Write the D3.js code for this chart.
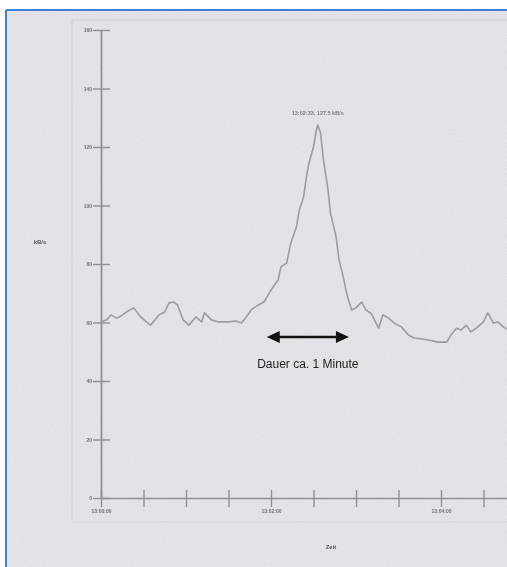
<!doctype html>
<html lang="de">
<head>
<meta charset="utf-8">
<script src="https://cdn.jsdelivr.net/npm/d3@7"></script>
<style>
body { margin: 0; background: #fff; overflow: hidden; }
svg { display: block; font-family: "Liberation Sans", Arial, sans-serif; }
</style>
</head>
<body>
<div id="chart"></div>
<script>
// ---------------- data ----------------
// seconds since 13:00:00
var secs = [0, 4, 7, 11, 14, 18, 23, 28, 32, 35, 41, 45, 48, 51, 54, 58, 62, 67, 71, 73,
  78, 83, 90, 95, 99, 102, 106, 111, 115, 120, 125, 127, 131, 134, 138, 140, 143, 145,
  147, 150, 152, 153, 155, 157, 160, 162, 166, 168, 171, 174, 177, 180, 184, 187, 191,
  193, 196, 199, 203, 207, 212, 217, 221, 226, 231, 238, 244, 247, 251, 254, 258, 261,
  265, 270, 273, 277, 280, 284, 288]
// kB/s
var rate = [60.2, 60.9, 62.6, 61.5, 62.2, 63.6, 65.0, 61.9, 60.2, 59.1, 62.6, 63.6, 66.7,
  67.0, 66.0, 60.9, 59.1, 61.9, 60.2, 63.3, 60.9, 60.2, 60.2, 60.5, 59.8, 61.5, 64.3,
  66.0, 67.0, 71.1, 74.5, 79.0, 80.3, 87.2, 92.7, 98.5, 102.9, 109.8, 114.9, 120.0,
  125.8, 127.5, 124.8, 115.6, 106.3, 97.4, 89.2, 81.4, 75.6, 68.7, 64.3, 65.0, 67.0,
  64.3, 62.9, 60.9, 58.1, 62.6, 61.5, 59.8, 58.5, 55.7, 54.7, 54.4, 54.0, 53.3, 53.3,
  55.7, 58.1, 57.4, 59.1, 56.8, 58.1, 60.2, 63.3, 59.8, 60.2, 58.5, 57.4]
var yTicks = [0, 20, 40, 60, 80, 100, 120, 140, 160]
var xTicks = [0, 30, 60, 90, 120, 150, 180, 210, 240, 270, 300]
var xLabels = {0: '13:00:00', 120: '13:02:00', 240: '13:04:00'}
var peakLabel = '13:02:33, 127.5 kB/s'
var note = 'Dauer ca. 1 Minute'
var arrowFrom = 117, arrowTo = 175   // seconds

// ---------------- layout ----------------
var W = 507, H = 567
var svg = d3.select('#chart').append('svg').attr('width', W).attr('height', H)
var defs = svg.append('defs')

var blur = defs.append('filter').attr('id', 'soft')
blur.append('feGaussianBlur').attr('stdDeviation', 0.6)

var grain = defs.append('filter').attr('id', 'grain').attr('x', 0).attr('y', 0).attr('width', 1).attr('height', 1)
grain.append('feTurbulence').attr('type', 'fractalNoise').attr('baseFrequency', 0.9).attr('numOctaves', 2).attr('seed', 3)
grain.append('feColorMatrix').attr('type', 'matrix')
	.attr('values', '0 0 0 0 0.55  0 0 0 0 0.55  0 0 0 0 0.6  0 0 0 -1.1 0.75')

// scanned page frame
svg.append('rect').attr('x', 6).attr('y', 10).attr('width', W).attr('height', H)
	.attr('fill', '#e5e4e9')
svg.append('rect').attr('x', 6).attr('y', 10).attr('width', W).attr('height', H)
	.attr('filter', 'url(#grain)').attr('opacity', 0.35)
svg.append('line').attr('x1', 6).attr('x2', 6).attr('y1', 10).attr('y2', H)
	.attr('stroke', '#3d82d6').attr('stroke-width', 2)
svg.append('line').attr('x1', 6).attr('x2', W).attr('y1', 10).attr('y2', 10)
	.attr('stroke', '#3d82d6').attr('stroke-width', 2)
// faint plot frame from the print
svg.append('path').attr('d', 'M72,520 V20 H507').attr('fill', 'none')
	.attr('stroke', '#d6d5db').attr('stroke-width', 1.5)
svg.append('line').attr('x1', 72).attr('x2', 507).attr('y1', 522).attr('y2', 522)
	.attr('stroke', '#dcdbe0').attr('stroke-width', 1.5)

var x = d3.scaleLinear().domain([0, 300]).range([101, 526])
var y = d3.scaleLinear().domain([0, 160]).range([498, 30])

var g = svg.append('g').attr('filter', 'url(#soft)')
var axisCol = '#8f8f95', textCol = '#6f6f75'

// y axis
var ya = g.append('g').attr('transform', 'translate(101,0)')
	.call(d3.axisLeft(y).tickValues(yTicks).tickSize(8).tickPadding(2).tickSizeOuter(0))
ya.select('.domain').attr('stroke', axisCol).attr('stroke-width', 1.8)
ya.selectAll('.tick line').attr('stroke', axisCol).attr('stroke-width', 1.4).attr('x2', 9).attr('x1', -8)
ya.selectAll('.tick text').attr('fill', textCol).attr('font-size', 5).attr('font-weight', 'bold').attr('x', -9)

// x axis
var xa = g.append('g').attr('transform', 'translate(0,498)')
	.call(d3.axisBottom(x).tickValues(xTicks).tickSize(8).tickSizeOuter(0)
		.tickFormat(function(d) { return xLabels[d] || '' }))
xa.select('.domain').attr('stroke', axisCol).attr('stroke-width', 1.6)
xa.selectAll('.tick line').attr('stroke', axisCol).attr('stroke-width', 1.4).attr('y1', -8).attr('y2', 9)
xa.selectAll('.tick text').attr('fill', textCol).attr('font-size', 5).attr('font-weight', 'bold').attr('dy', '1em').attr('y', 10)

// axis titles
g.append('text').attr('x', 40).attr('y', 244).attr('text-anchor', 'middle')
	.attr('font-size', 6).attr('font-weight', 'bold').attr('fill', '#555').text('kB/s')
g.append('text').attr('x', 331).attr('y', 549).attr('text-anchor', 'middle')
	.attr('font-size', 6).attr('font-weight', 'bold').attr('fill', '#555').text('Zeit')

// series
var pts = secs.map(function(s, i) { return [s, rate[i]] })
var line = d3.line().x(function(d) { return x(d[0]) }).y(function(d) { return y(d[1]) })
g.append('path').datum(pts).attr('d', line).attr('fill', 'none')
	.attr('stroke', '#9b9ba0').attr('stroke-width', 1.6).attr('stroke-linejoin', 'round')

// peak label
var iMax = d3.maxIndex(rate)
g.append('text').attr('x', x(secs[iMax])).attr('y', y(rate[iMax]) - 10)
	.attr('text-anchor', 'middle').attr('font-size', 5.5).attr('font-weight', 'bold')
	.attr('fill', '#7a7a80').text(peakLabel)

// duration arrow
var ay = 337
var x1 = x(arrowFrom), x2 = x(arrowTo)
svg.append('line').attr('x1', x1 + 8).attr('x2', x2 - 8).attr('y1', ay).attr('y2', ay)
	.attr('stroke', '#111').attr('stroke-width', 2.6)
svg.append('path').attr('fill', '#111')
	.attr('d', 'M' + x1 + ',' + ay + 'l13,-6v12z')
svg.append('path').attr('fill', '#111')
	.attr('d', 'M' + x2 + ',' + ay + 'l-13,-6v12z')
svg.append('text').attr('x', (x1 + x2) / 2).attr('y', 368).attr('text-anchor', 'middle')
	.attr('font-size', 12).attr('fill', '#222').text(note)
</script>
</body>
</html>
